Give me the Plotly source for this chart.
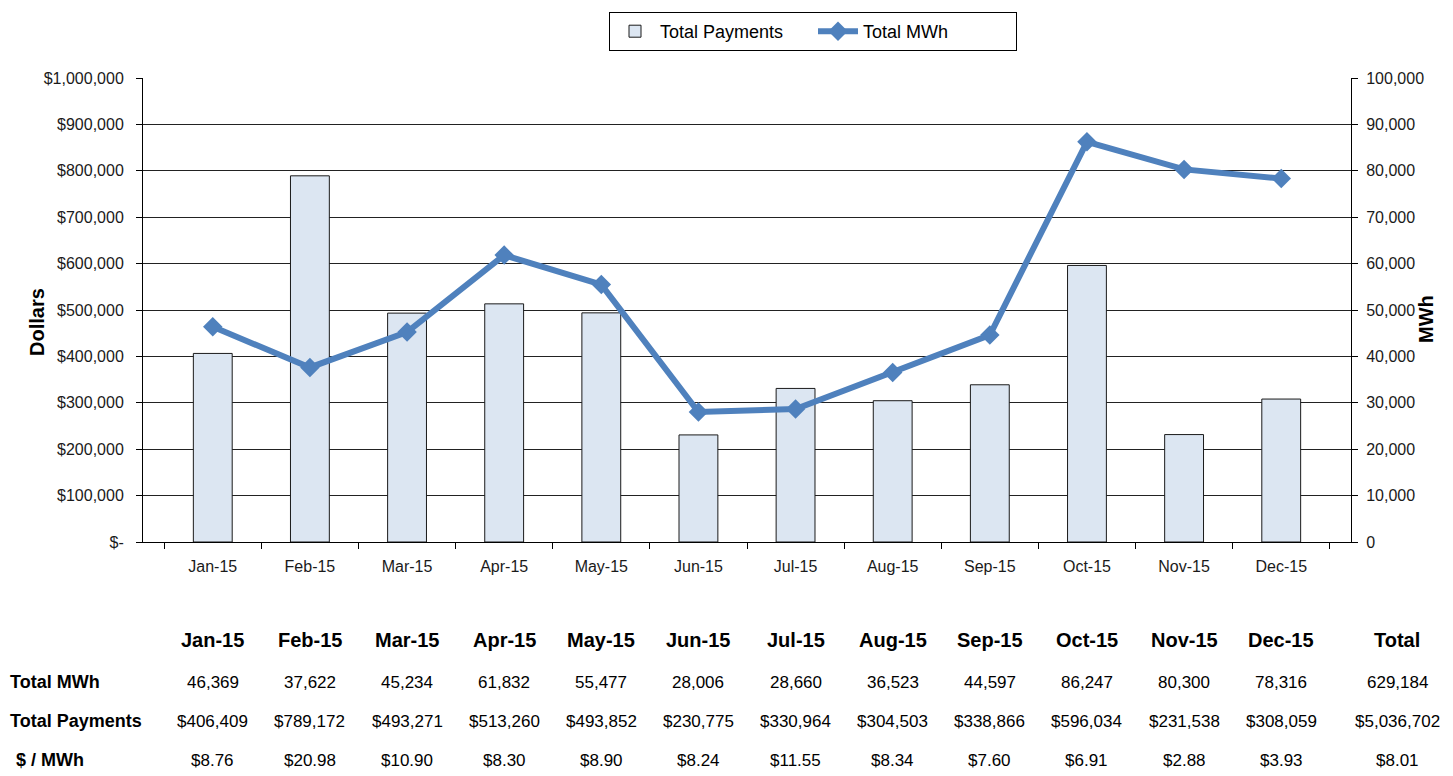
import plotly.graph_objects as go

months = ["Jan-15", "Feb-15", "Mar-15", "Apr-15", "May-15", "Jun-15",
          "Jul-15", "Aug-15", "Sep-15", "Oct-15", "Nov-15", "Dec-15"]
total_mwh = [46369, 37622, 45234, 61832, 55477, 28006, 28660, 36523, 44597, 86247, 80300, 78316]
total_payments = [406409, 789172, 493271, 513260, 493852, 230775, 330964, 304503, 338866, 596034, 231538, 308059]
dollars_per_mwh = [8.76, 20.98, 10.90, 8.30, 8.90, 8.24, 11.55, 8.34, 7.60, 6.91, 2.88, 3.93]
total_mwh_sum = 629184
total_payments_sum = 5036702
total_dollars_per_mwh = 8.01

fig = go.Figure()
fig.add_trace(go.Bar(
    x=months, y=total_payments, name="Total Payments",
    marker=dict(color="#DCE6F2", line=dict(color="#1a1a1a", width=1)),
    width=0.4, yaxis="y",
))
fig.add_trace(go.Scatter(
    x=months, y=total_mwh, name="Total MWh", mode="lines+markers",
    line=dict(color="#4F81BD", width=6),
    marker=dict(symbol="diamond", size=15, color="#4F81BD"),
    yaxis="y2",
))

W, H = 1453, 776
L, R, T, B = 143, 1351, 78, 542

def py(ypx):
    return (B - ypx) / (B - T)

def px(xpx):
    return (xpx - L) / (R - L)

sans = "Liberation Sans, Arial, sans-serif"
ann = []
rows = [("Total MWh", [f"{v:,}" for v in total_mwh] + [f"{total_mwh_sum:,}"], 682, 8),
        ("Total Payments", [f"${v:,}" for v in total_payments] + [f"${total_payments_sum:,}"], 721, 8),
        ("$ / MWh", [f"${v:.2f}" for v in dollars_per_mwh] + [f"${total_dollars_per_mwh:.2f}"], 760, 14)]
hdr_y = 640
TOTAL_X = 1397
for m in months:
    ann.append(dict(x=m, xref="x", y=py(hdr_y), yref="paper", text=f"<b>{m}</b>",
                    showarrow=False, xanchor="center", yanchor="middle",
                    font=dict(family=sans, size=20, color="#000")))
ann.append(dict(x=px(TOTAL_X), xref="paper", y=py(hdr_y), yref="paper", text="<b>Total</b>",
                showarrow=False, xanchor="center", yanchor="middle",
                font=dict(family=sans, size=20, color="#000")))
for label, vals, ypx, lx in rows:
    ann.append(dict(x=px(lx), xref="paper", y=py(ypx), yref="paper",
                    text=f"<b>{label}</b>",
                    showarrow=False, xanchor="left", yanchor="middle",
                    font=dict(family=sans, size=18, color="#000")))
    for m, v in zip(months, vals[:-1]):
        ann.append(dict(x=m, xref="x", y=py(ypx), yref="paper", text=v,
                        showarrow=False, xanchor="center", yanchor="middle",
                        font=dict(family=sans, size=17, color="#000")))
    ann.append(dict(x=px(TOTAL_X), xref="paper", y=py(ypx), yref="paper", text=vals[-1],
                    showarrow=False, xanchor="center", yanchor="middle",
                    font=dict(family=sans, size=17, color="#000")))

# axis titles
ann.append(dict(x=px(37), xref="paper", y=py(322), yref="paper", text="<b>Dollars</b>",
                textangle=-90, showarrow=False, xanchor="center", yanchor="middle",
                font=dict(family=sans, size=20, color="#000")))
ann.append(dict(x=px(1426), xref="paper", y=py(319), yref="paper", text="<b>MWh</b>",
                textangle=-90, showarrow=False, xanchor="center", yanchor="middle",
                font=dict(family=sans, size=20, color="#000")))

tickfont = dict(family=sans, size=16, color="#1a1a1a")
fig.update_layout(
    width=W, height=H,
    margin=dict(l=L, r=W - R, t=T, b=H - B),
    plot_bgcolor="#FFFFFF", paper_bgcolor="#FFFFFF",
    showlegend=True,
    legend=dict(orientation="h", x=px(813), xanchor="center", y=py(12), yanchor="top",
                bordercolor="#000000", borderwidth=1,
                font=dict(family=sans, size=18, color="#000"),
                itemwidth=40, entrywidth=148, tracegroupgap=0),
    xaxis=dict(type="category", showgrid=False, ticks="outside", tickson="boundaries",
               ticklen=6, tickcolor="#000", showline=True, linecolor="#000", linewidth=1,
               tickfont=tickfont, ticklabelstandoff=10),
    yaxis=dict(range=[0, 1000000], tickvals=list(range(0, 1000001, 100000)),
               ticktext=["$-"] + [f"${v:,}" for v in range(100000, 1000001, 100000)],
               showgrid=True, gridcolor="#222", gridwidth=1,
               ticks="outside", ticklen=6, tickcolor="#000",
               showline=True, linecolor="#000", linewidth=1,
               tickfont=tickfont, zeroline=False, ticklabelstandoff=9),
    yaxis2=dict(range=[0, 100000], overlaying="y", side="right",
                tickvals=list(range(0, 100001, 10000)), tickformat=",",
                showgrid=False, ticks="outside", ticklen=6, tickcolor="#000",
                showline=True, linecolor="#000", linewidth=1, zeroline=False,
                tickfont=tickfont, ticklabelstandoff=5),
    annotations=ann,
)

fig.write_html("out.html", config={"displayModeBar": False},
               post_script="document.body.style.margin='0px';")
